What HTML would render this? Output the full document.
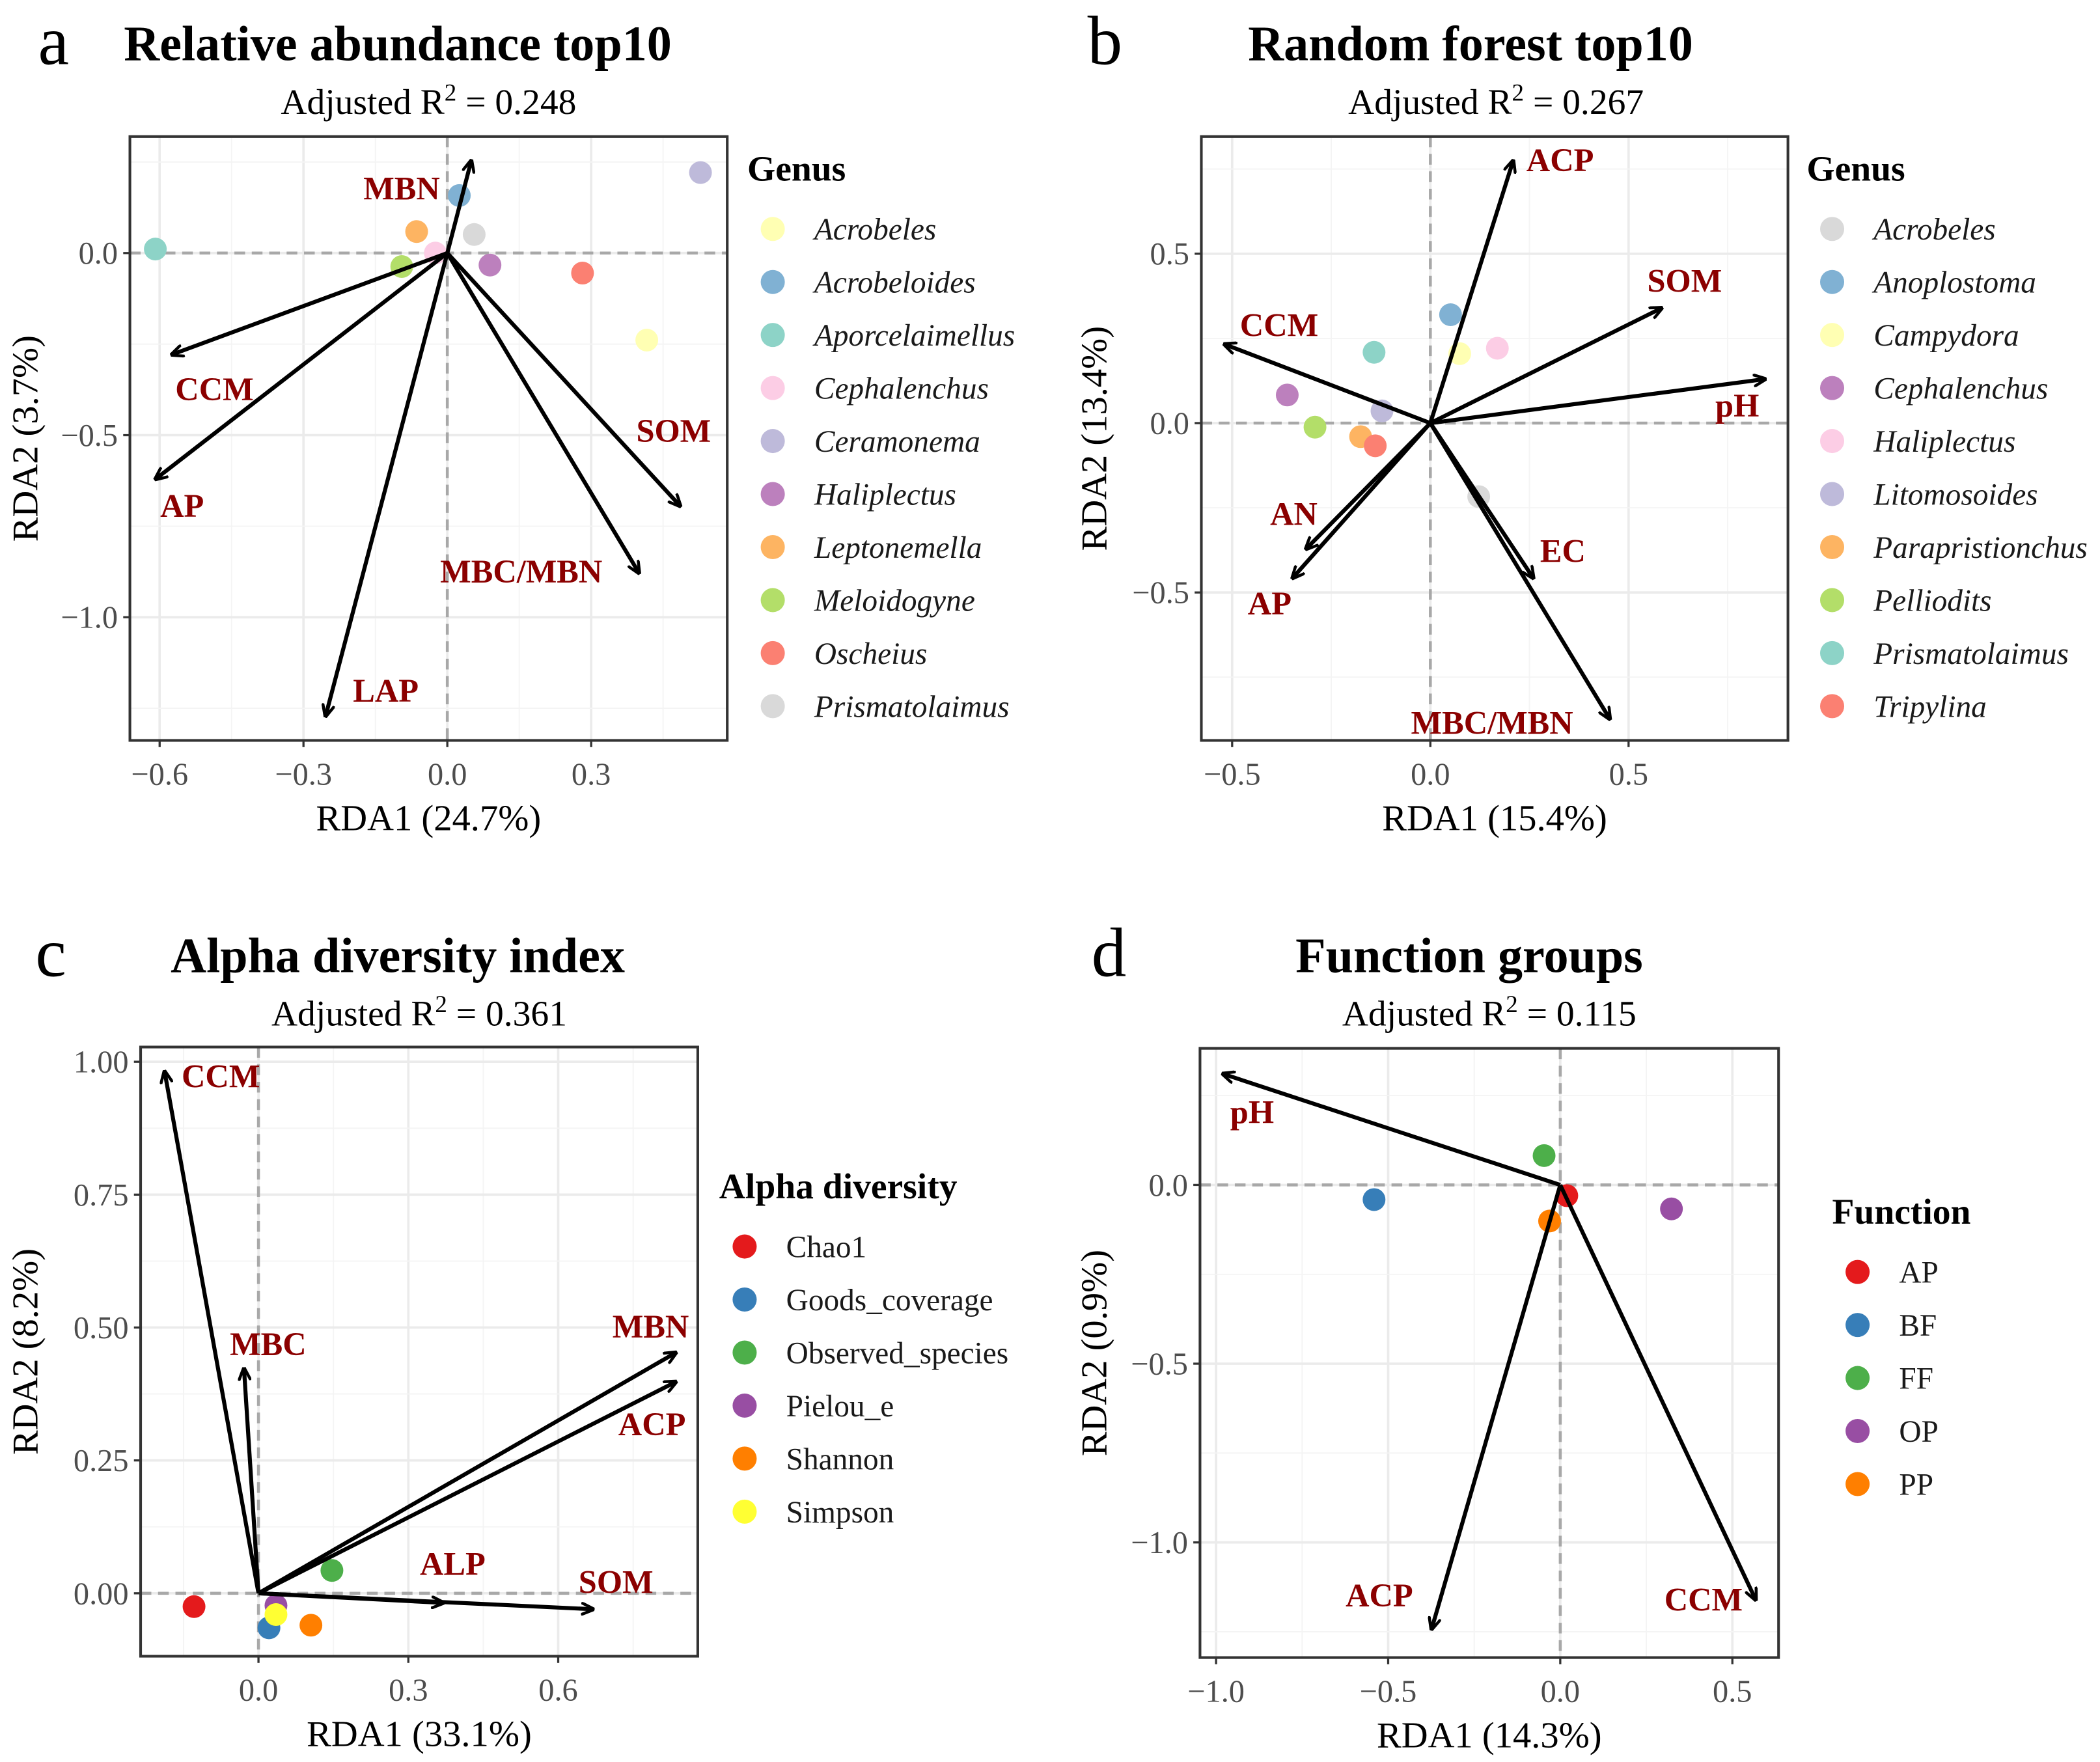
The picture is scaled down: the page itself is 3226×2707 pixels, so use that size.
<!DOCTYPE html>
<html><head><meta charset="utf-8">
<style>
html,body{margin:0;padding:0;background:#fff;}
svg{display:block;font-family:"Liberation Serif",serif;}
</style></head>
<body>
<svg id="fig" width="3226" height="2707" viewBox="0 0 1568 1316" preserveAspectRatio="none" xmlns="http://www.w3.org/2000/svg" font-family="Liberation Serif, serif">
<defs>
<marker id="ah" viewBox="0 0 10 10" refX="9" refY="5" markerWidth="10" markerHeight="10" orient="auto-start-reverse" markerUnits="userSpaceOnUse">
<path d="M0,0.5 L10,5 L0,9.5" fill="none" stroke="#000" stroke-width="2.2"/>
</marker>
</defs>
</svg>
<script>
// ---------- Panel a data ----------
const aGenus = ["Acrobeles","Acrobeloides","Aporcelaimellus","Cephalenchus","Ceramonema","Haliplectus","Leptonemella","Meloidogyne","Oscheius","Prismatolaimus"];
const aX = [0.416,0.025,-0.609,-0.025,0.528,0.089,-0.064,-0.095,0.282,0.056];
const aY = [-0.239,0.158,0.011,0,0.221,-0.033,0.059,-0.037,-0.055,0.051];
const aVar = ["MBN","CCM","AP","LAP","MBC/MBN","SOM"];
const aVX = [0.05,-0.575,-0.609,-0.254,0.40,0.486];
const aVY = [0.254,-0.279,-0.621,-1.272,-0.879,-0.695];
const aXTicks = [-0.6,-0.3,0.0,0.3];
const aYTicks = [0.0,-0.5,-1.0];
// ---------- Panel b data ----------
const bGenus = ["Acrobeles","Anoplostoma","Campydora","Cephalenchus","Haliplectus","Litomosoides","Parapristionchus","Pelliodits","Prismatolaimus","Tripylina"];
const bX = [0.122,0.051,0.074,-0.361,0.169,-0.122,-0.176,-0.291,-0.142,-0.139];
const bY = [-0.217,0.320,0.205,0.083,0.221,0.036,-0.040,-0.012,0.209,-0.067];
const bVar = ["ACP","SOM","pH","CCM","AN","AP","EC","MBC/MBN"];
const bVX = [0.209,0.584,0.845,-0.520,-0.314,-0.348,0.26,0.453];
const bVY = [0.775,0.340,0.130,0.233,-0.372,-0.458,-0.458,-0.874];
const bXTicks = [-0.5,0.0,0.5];
const bYTicks = [0.5,0.0,-0.5];
// ---------- Panel c data ----------
const cIdx = ["Chao1","Goods_coverage","Observed_species","Pielou_e","Shannon","Simpson"];
const cX = [-0.129,0.021,0.147,0.035,0.105,0.035];
const cY = [-0.025,-0.065,0.043,-0.023,-0.060,-0.040];
const cVar = ["CCM","MBC","MBN","ACP","ALP","SOM"];
const cVX = [-0.188,-0.029,0.836,0.836,0.370,0.670];
const cVY = [0.982,0.423,0.453,0.398,-0.018,-0.030];
const cXTicks = [0.0,0.3,0.6];
const cYTicks = [1.00,0.75,0.50,0.25,0.00];
// ---------- Panel d data ----------
const dFun = ["AP","BF","FF","OP","PP"];
const dX = [0.019,-0.541,-0.047,0.323,-0.031];
const dY = [-0.030,-0.041,0.082,-0.067,-0.101];
const dVar = ["pH","ACP","CCM"];
const dVX = [-0.981,-0.374,0.568];
const dVY = [0.311,-1.243,-1.161];
const dXTicks = [-1.0,-0.5,0.0,0.5];
const dYTicks = [0.0,-0.5,-1.0];

const NS="http://www.w3.org/2000/svg";
const svg=document.getElementById('fig');
function mk(tag,attrs,parent,text){const e=document.createElementNS(NS,tag);for(const k in attrs)e.setAttribute(k,attrs[k]);if(text!==undefined)e.textContent=text;(parent||svg).appendChild(e);return e;}
function fmt(v,d){return v.toFixed(d).replace('-','\u2212');}

function panel(cfg){
  const g=mk('g',{});
  
  
  const sx=v=>cfg.x0+cfg.kx*v, sy=v=>cfg.y0-cfg.ky*v;
  const b=cfg.box;
  const xt=cfg.xt, yt=cfg.yt;
  const xs=[...xt].sort((p,q)=>p-q), ys=[...yt].sort((p,q)=>p-q);
  const dx=xs[1]-xs[0], dy=ys[1]-ys[0];
  for(let v=xs[0]-dx/2; v<=xs[xs.length-1]+dx; v+=dx/2){const px=sx(v);if(px>b[0]&&px<b[2]){const major=xs.some(t=>Math.abs(t-v)<1e-9);const l=mk('line',{x1:px,x2:px,y1:b[1],y2:b[3],stroke:major?'#EBEBEB':'#F4F4F4','stroke-width':major?1.8:0.9},g);}}
  for(let v=ys[0]-dy/2; v<=ys[ys.length-1]+dy; v+=dy/2){const py=sy(v);if(py>b[1]&&py<b[3]){const major=ys.some(t=>Math.abs(t-v)<1e-9);const l=mk('line',{x1:b[0],x2:b[2],y1:py,y2:py,stroke:major?'#EBEBEB':'#F4F4F4','stroke-width':major?1.8:0.9},g);}}
  const zv=mk('line',{x1:sx(0),x2:sx(0),y1:b[1],y2:b[3],stroke:'#A8A8A8','stroke-width':2.2,'stroke-dasharray':'8,5'},g);
  
  const zh=mk('line',{x1:b[0],x2:b[2],y1:sy(0),y2:sy(0),stroke:'#A8A8A8','stroke-width':2.2,'stroke-dasharray':'8,5'},g);
  
  cfg.px.forEach((v,i)=>{const c=mk('circle',{cx:sx(v),cy:sy(cfg.py[i]),r:8.5,fill:cfg.colors[i]},g);
    });
  cfg.vx.forEach((v,i)=>{const l=mk('line',{x1:sx(0),y1:sy(0),x2:sx(v),y2:sy(cfg.vy[i]),stroke:'#000','stroke-width':3,'marker-end':'url(#ah)'},g);
    
    const o=cfg.off[i];
    const t=mk('text',{x:sx(v)+o[0],y:sy(cfg.vy[i])+o[1]+8,'text-anchor':'middle','font-size':24.5,'font-weight':'bold',fill:'#8B0000'},g,cfg.vars[i]);
    });
  const fr=mk('rect',{x:b[0],y:b[1],width:b[2]-b[0],height:b[3]-b[1],fill:'none',stroke:'#333','stroke-width':2},g);
  
  xt.forEach(v=>{const px=sx(v);mk('line',{x1:px,x2:px,y1:b[3],y2:b[3]+5,stroke:'#333','stroke-width':1.6},g);
    const t=mk('text',{x:px,y:b[3]+33,'text-anchor':'middle','font-size':23.5,fill:'#4D4D4D'},g,fmt(v,cfg.xd));
    });
  yt.forEach(v=>{const py=sy(v);mk('line',{x1:b[0]-5,x2:b[0],y1:py,y2:py,stroke:'#333','stroke-width':1.6},g);
    const t=mk('text',{x:b[0]-9,y:py+8,'text-anchor':'end','font-size':23.5,fill:'#4D4D4D'},g,fmt(v,cfg.yd));
    });
  const xa=mk('text',{x:(b[0]+b[2])/2,y:b[3]+67,'text-anchor':'middle','font-size':27.5},g,cfg.xlab);
  
  const yc=(b[1]+b[3])/2, yx=cfg.ylabX;
  const ya=mk('text',{x:yx,y:yc,'text-anchor':'middle','font-size':27.5,transform:`rotate(-90 ${yx} ${yc})`},g,cfg.ylab);
  
  const L=mk('text',{x:cfg.letter[1],y:cfg.letter[2],'text-anchor':'middle','font-size':52},g,cfg.letter[0]);
  
  const T=mk('text',{x:cfg.title[1],y:cfg.title[2],'text-anchor':'middle','font-size':37,'font-weight':'bold'},g,cfg.title[0]);
  
  const S=mk('text',{x:cfg.sub[1],y:cfg.sub[2],'text-anchor':'middle','font-size':27},g);
  
  mk('tspan',{},S,'Adjusted R');mk('tspan',{dy:-10,'font-size':18},S,'2');mk('tspan',{dy:10},S,' = '+cfg.sub[0]);
  const lg=mk('g',{},g);
  
  const lt=mk('text',{x:cfg.leg[0],y:cfg.leg[1],'font-size':27,'font-weight':'bold'},lg,cfg.legTitle);
  
  cfg.cats.forEach((c,i)=>{const yy=cfg.leg[2]+i*39.6;
    const e=mk('g',{},lg);
    mk('circle',{cx:cfg.leg[0]+19,cy:yy,r:9,fill:cfg.colors[i]},e);
    mk('text',{x:cfg.leg[0]+50,y:yy+8,'font-size':23,'font-style':cfg.italic?'italic':'normal',fill:'#1a1a1a'},e,c);});
}
const set3=['#FFFFB3','#80B1D3','#8DD3C7','#FCCDE5','#BEBADA','#BC80BD','#FDB462','#B3DE69','#FB8072','#D9D9D9'];
const bcols=['#D9D9D9','#80B1D3','#FFFFB3','#BC80BD','#FCCDE5','#BEBADA','#FDB462','#B3DE69','#8DD3C7','#FB8072'];
const set1=['#E41A1C','#377EB8','#4DAF4A','#984EA3','#FF7F00','#FFFF33'];

panel({name:'panel-a',box:[97,102,543,553],x0:334,kx:358,y0:189,ky:272,xt:aXTicks,yt:aYTicks,xd:1,yd:1,
 px:aX,py:aY,cats:aGenus,colors:set3,vars:aVar,vx:aVX,vy:aVY,
 off:[[-52,21],[32,26],[20,20],[45,-19],[-88,-1],[-5,-56]],
 xlab:'RDA1 (24.7%)',ylab:'RDA2 (3.7%)',ylabX:28,letter:['a',40,48],title:['Relative abundance top10',297,45],sub:['0.248',320,85],
 leg:[558,135,171],legTitle:'Genus',italic:true});
panel({name:'panel-b',box:[897,102,1335,553],x0:1068,kx:296,y0:316,ky:253,xt:bXTicks,yt:bYTicks,xd:1,yd:1,
 px:bX,py:bY,cats:bGenus,colors:bcols,vars:bVar,vx:bVX,vy:bVY,
 off:[[35,0],[17,-20],[-21,20],[41,-14],[-9,-26],[-17,19],[22,-20],[-88,3]],
 xlab:'RDA1 (15.4%)',ylab:'RDA2 (13.4%)',ylabX:826,letter:['b',825,48],title:['Random forest top10',1098,45],sub:['0.267',1117,85],
 leg:[1349,135,171],legTitle:'Genus',italic:true});
panel({name:'panel-c',box:[105,782,521,1237],x0:193,kx:373,y0:1190,ky:397,xt:cXTicks,yt:cYTicks,xd:1,yd:2,
 px:cX,py:cY,cats:cIdx,colors:set1,vars:cVar,vx:cVX,vy:cVY,
 off:[[42,4],[18,-18],[-19,-19],[-18,32],[7,-29],[17,-20]],
 xlab:'RDA1 (33.1%)',ylab:'RDA2 (8.2%)',ylabX:28,letter:['c',38,729],title:['Alpha diversity index',297,726],sub:['0.361',313,766],
 leg:[537,895,931],legTitle:'Alpha diversity',italic:false});
panel({name:'panel-d',box:[896,783,1328,1238],x0:1165,kx:257,y0:885,ky:267,xt:dXTicks,yt:dYTicks,xd:1,yd:1,
 px:dX,py:dY,cats:dFun,colors:set1,vars:dVar,vx:dVX,vy:dVY,
 off:[[22,29],[-39,-25],[-39,0]],
 xlab:'RDA1 (14.3%)',ylab:'RDA2 (0.9%)',ylabX:826,letter:['d',828,729],title:['Function groups',1097,726],sub:['0.115',1112,766],
 leg:[1368,914,950],legTitle:'Function',italic:false});
</script>
</body></html>
